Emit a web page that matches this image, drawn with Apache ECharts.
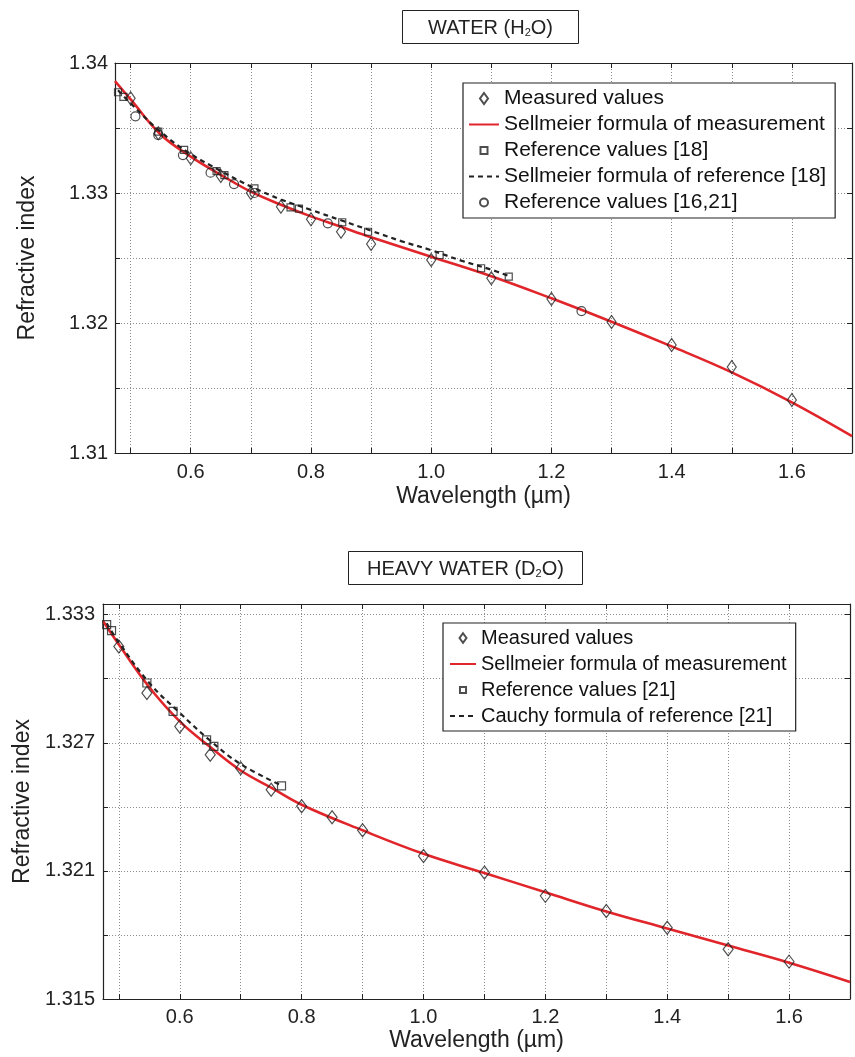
<!DOCTYPE html>
<html>
    <head>
        <title>Refractive index of water and heavy water</title>
        <meta charset="UTF-8">
        <script src="https://cdn.jsdelivr.net/npm/echarts@6.0.0/dist/echarts.min.js"></script>
        <style>
            body {
                margin: 0;
                background-color: #fff;
            }
            #main {
                width: 855px;
                height: 1057px;
            }
        </style>
    </head>
    <body>
        <div id="main"></div>
        <script>
            // ---- WATER (H2O) ----
            var h2oMeasWl = [0.50, 0.546, 0.60, 0.65, 0.70, 0.75, 0.80, 0.85, 0.90, 1.00, 1.10, 1.20, 1.30, 1.40, 1.50, 1.60];
            var h2oMeasN = [1.33728, 1.33460, 1.33267, 1.33130, 1.33000, 1.32895, 1.32798, 1.32702, 1.32608, 1.32485, 1.32344, 1.32185, 1.32008, 1.31831, 1.31662, 1.31408];

            var h2oFitWl = [0.474, 0.50, 0.55, 0.60, 0.65, 0.70, 0.75, 0.80, 0.85, 0.90, 1.00, 1.10, 1.20, 1.30, 1.40, 1.50, 1.60, 1.70];
            var h2oFitN = [1.3386, 1.3372, 1.3345, 1.3328, 1.3314, 1.3301, 1.3291, 1.3282, 1.3274, 1.3266, 1.3251, 1.3236, 1.3219, 1.3201, 1.3182, 1.3162, 1.3139, 1.3113];

            var h2oRef18Wl = [0.479, 0.488, 0.546, 0.589, 0.643, 0.656, 0.706, 0.766, 0.780, 0.852, 0.895, 1.014, 1.083, 1.129];
            var h2oRef18N = [1.33775, 1.33740, 1.33472, 1.33331, 1.33169, 1.33138, 1.33036, 1.32890, 1.32880, 1.32775, 1.32702, 1.32523, 1.32421, 1.32356];

            var h2oRef18FitWl = [0.479, 0.50, 0.55, 0.60, 0.65, 0.70, 0.75, 0.80, 0.85, 0.90, 0.95, 1.00, 1.05, 1.10, 1.13];
            var h2oRef18FitN = [1.3379, 1.3369, 1.3347, 1.3330, 1.3317, 1.3305, 1.3295, 1.3287, 1.3279, 1.3271, 1.3263, 1.3256, 1.3248, 1.3241, 1.3236];

            var h2oRef1621Wl = [0.508, 0.546, 0.587, 0.633, 0.672, 0.706, 0.828, 1.25];
            var h2oRef1621N = [1.33590, 1.33446, 1.33292, 1.33156, 1.33069, 1.33000, 1.32767, 1.32092];

            // ---- HEAVY WATER (D2O) ----
            var d2oMeasWl = [0.50, 0.546, 0.60, 0.65, 0.70, 0.75, 0.80, 0.85, 0.90, 1.00, 1.10, 1.20, 1.30, 1.40, 1.50, 1.60];
            var d2oMeasN = [1.33151, 1.32933, 1.32776, 1.32644, 1.32581, 1.32480, 1.32403, 1.32351, 1.32290, 1.32170, 1.32092, 1.31983, 1.31912, 1.31834, 1.31733, 1.31675];

            var d2oFitWl = [0.474, 0.50, 0.55, 0.60, 0.65, 0.70, 0.75, 0.80, 0.90, 1.00, 1.10, 1.20, 1.30, 1.40, 1.50, 1.60, 1.70];
            var d2oFitN = [1.3327, 1.3316, 1.3296, 1.3280, 1.3268, 1.3257, 1.3249, 1.3241, 1.3229, 1.3218, 1.3209, 1.3200, 1.3191, 1.3183, 1.3175, 1.3167, 1.3158];

            var d2oRef21Wl = [0.480, 0.488, 0.546, 0.589, 0.644, 0.656, 0.767];
            var d2oRef21N = [1.33253, 1.33225, 1.32980, 1.32847, 1.32714, 1.32683, 1.32498];

            var d2oCauchyWl = [0.480, 0.50, 0.55, 0.60, 0.65, 0.70, 0.767];
            var d2oCauchyN = [1.3326, 1.3317, 1.3298, 1.3284, 1.3271, 1.3260, 1.3250];

            var FONT = '"Liberation Sans", Arial, sans-serif';
            var INK = '#222';
            var RED = '#e0252b';

            // legend icons: the leading M points pin the box so the marker keeps its shape
            var ICON_DIAMOND = 'path://M0,0M30,12M15,0.5L19,6L15,11.5L11,6Z';
            var ICON_SQUARE = 'path://M0,0M30,12M11.5,2.5L18.5,2.5L18.5,9.5L11.5,9.5Z';
            var ICON_CIRCLE = 'path://M0,0M30,12M19,6A4,4,0,1,1,11,6A4,4,0,1,1,19,6Z';

            var h2oLegend = [
                {name: 'Measured values', icon: ICON_DIAMOND},
                'Sellmeier formula of measurement',
                {name: 'Reference values [18]', icon: ICON_SQUARE},
                'Sellmeier formula of reference [18]',
                {name: 'Reference values [16,21]', icon: ICON_CIRCLE}
            ];
            var d2oLegend = [
                {name: 'Measured values', icon: ICON_DIAMOND},
                'Sellmeier formula of measurement',
                {name: 'Reference values [21]', icon: ICON_SQUARE},
                'Cauchy formula of reference [21]'
            ];

            function zip(xs, ys) {
                return xs.map(function (x, i) { return [x, ys[i]]; });
            }

            function near(v, step) {
                return Math.abs(v / step - Math.round(v / step)) < 1e-6;
            }

            function xAxis(grid, top, nameGap, margin) {
                return {
                    gridIndex: grid, type: 'value', min: 0.474, max: 1.7, splitNumber: 12,
                    position: top ? 'top' : 'bottom',
                    name: top ? '' : 'Wavelength (\u00b5m)', nameLocation: 'middle', nameGap: nameGap,
                    nameTextStyle: {fontSize: 23, color: INK, fontFamily: FONT},
                    axisLine: {show: true, onZero: false, lineStyle: {color: INK, width: 1.2}},
                    axisTick: {show: true, inside: true, length: 5, lineStyle: {color: INK}},
                    axisLabel: {
                        show: !top, margin: margin, fontSize: 20, color: INK, fontFamily: FONT,
                        formatter: function (v) { return near(v, 0.2) ? v.toFixed(1) : ''; }
                    },
                    splitLine: {show: !top, lineStyle: {type: [1, 2], color: '#8c8c8c', width: 1}}
                };
            }

            function yAxis(grid, right, min, max, step, labelFn, nameGap, margin) {
                return {
                    gridIndex: grid, type: 'value', min: min, max: max, interval: step,
                    position: right ? 'right' : 'left',
                    name: right ? '' : 'Refractive index', nameLocation: 'middle', nameGap: nameGap,
                    nameTextStyle: {fontSize: 23, color: INK, fontFamily: FONT},
                    axisLine: {show: true, onZero: false, lineStyle: {color: INK, width: 1.2}},
                    axisTick: {show: true, inside: true, length: 5, lineStyle: {color: INK}},
                    axisLabel: {show: !right, margin: margin, fontSize: 20, color: INK, fontFamily: FONT, formatter: labelFn},
                    splitLine: {show: !right, lineStyle: {type: [1, 2], color: '#8c8c8c', width: 1}}
                };
            }

            function scatter(name, axis, data, symbol, size) {
                return {
                    name: name, type: 'scatter', xAxisIndex: axis, yAxisIndex: axis, data: data,
                    symbol: symbol, symbolSize: size, z: 4,
                    itemStyle: {color: 'rgba(255,255,255,0)', borderColor: INK, borderWidth: 1.2}
                };
            }

            function line(name, axis, data, color, type, width) {
                return {
                    name: name, type: 'line', xAxisIndex: axis, yAxisIndex: axis, data: data,
                    smooth: 0.4, showSymbol: false, symbol: 'none', z: type === 'solid' ? 2 : 3,
                    lineStyle: {color: color, type: type, width: width},
                    // opacity 0 keeps the legend icon a plain line
                    itemStyle: {color: color, opacity: 0}
                };
            }

            function legend(left, top, names, fontSize, gap, iconW, pad) {
                return {
                    orient: 'vertical', left: left, top: top, data: names, selectedMode: false,
                    itemWidth: iconW, itemHeight: 12, itemGap: gap, padding: pad,
                    borderColor: INK, borderWidth: 1.2, backgroundColor: '#fff',
                    textStyle: {fontSize: fontSize, color: '#111', fontFamily: FONT}
                };
            }

            function boxTitle(text, left, top, padX) {
                return {
                    text: text, left: left, top: top, padding: [8, padX, 6, padX],
                    borderColor: INK, borderWidth: 1, backgroundColor: '#fff',
                    textStyle: {
                        fontSize: 20, fontWeight: 'normal', color: INK, fontFamily: FONT,
                        rich: {s: {fontSize: 11, color: INK, fontFamily: FONT, verticalAlign: 'bottom', lineHeight: 17}}
                    }
                };
            }

            var chart = echarts.init(document.getElementById('main'), null, {renderer: 'canvas'});

            var option = {
                animation: false,
                backgroundColor: '#fff',
                title: [
                    boxTitle('WATER (H{s|2}O)', 402, 10, 26),
                    boxTitle('HEAVY WATER (D{s|2}O)', 348, 551, 19)
                ],
                legend: [
                    legend(463, 83, h2oLegend, 21, 5, 30, [5, 9, 5, 5]),
                    legend(443, 623, d2oLegend, 20, 6, 26, [5, 9, 5, 6])
                ],
                grid: [
                    {left: 115, top: 63, width: 748, height: 390},
                    {left: 103, top: 604, width: 747, height: 395}
                ],
                xAxis: [
                    xAxis(0, false, 32, 9), xAxis(0, true, 0, 0),
                    xAxis(1, false, 30, 8), xAxis(1, true, 0, 0)
                ],
                yAxis: [
                    yAxis(0, false, 1.31, 1.34, 0.005, function (v) { return near(v, 0.01) ? v.toFixed(2) : ''; }, 76, 7),
                    yAxis(0, true, 1.31, 1.34, 0.005, null, 0, 0),
                    yAxis(1, false, 1.315, 1.3335, 0.003, function (v) {
                        return (near(v - 1.315, 0.006) && v < 1.3332) ? v.toFixed(3) : '';
                    }, 56, 8),
                    yAxis(1, true, 1.315, 1.3335, 0.003, null, 0, 0)
                ],
                series: [
                    line('Sellmeier formula of measurement', 0, zip(h2oFitWl, h2oFitN), RED, 'solid', 2.6),
                    line('Sellmeier formula of reference [18]', 0, zip(h2oRef18FitWl, h2oRef18FitN), INK, [5, 4], 2.2),
                    scatter('Measured values', 0, zip(h2oMeasWl, h2oMeasN), 'diamond', [9, 13]),
                    scatter('Reference values [18]', 0, zip(h2oRef18Wl, h2oRef18N), 'rect', 7),
                    scatter('Reference values [16,21]', 0, zip(h2oRef1621Wl, h2oRef1621N), 'circle', 9),

                    line('Sellmeier formula of measurement', 2, zip(d2oFitWl, d2oFitN), RED, 'solid', 2.6),
                    line('Cauchy formula of reference [21]', 2, zip(d2oCauchyWl, d2oCauchyN), INK, [5, 4], 2.2),
                    scatter('Measured values', 2, zip(d2oMeasWl, d2oMeasN), 'diamond', [10, 13]),
                    scatter('Reference values [21]', 2, zip(d2oRef21Wl, d2oRef21N), 'rect', 8)
                ]
            };
            chart.setOption(option);
        </script>
    </body>
</html>
